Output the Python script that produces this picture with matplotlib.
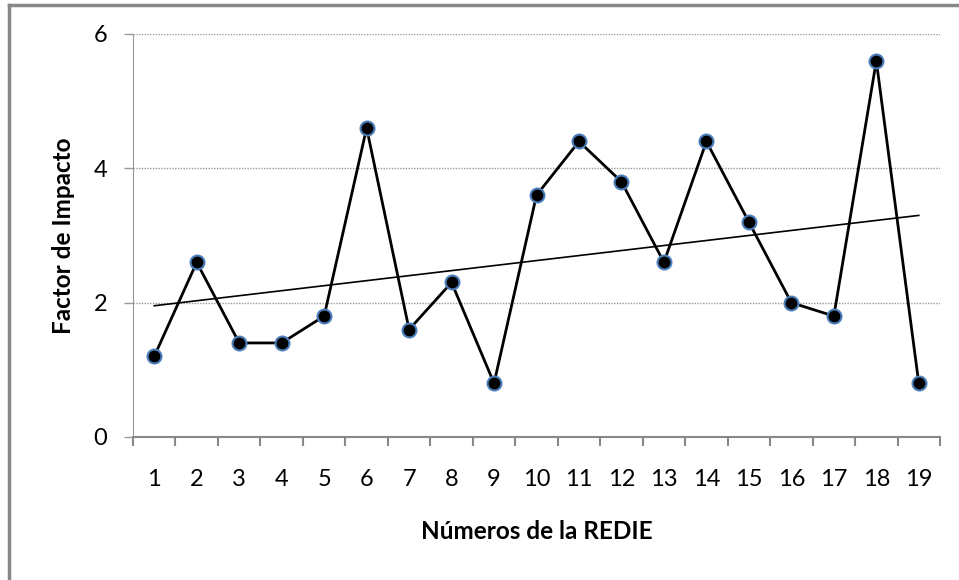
import numpy as np
import matplotlib
matplotlib.use("Agg")
import matplotlib.pyplot as plt
from matplotlib.lines import Line2D

numeros = list(range(1, 20))
factor_impacto = [1.2, 2.6, 1.4, 1.4, 1.8, 4.6, 1.6, 2.3, 0.8, 3.6,
                  4.4, 3.8, 2.6, 4.4, 3.2, 2.0, 1.8, 5.6, 0.8]
y_ticks = [0, 2, 4, 6]

plt.rcParams['font.family'] = ['Lato', 'DejaVu Sans']

fig = plt.figure(figsize=(9.59, 5.8), dpi=100)
ax = fig.add_axes([0.1387, 0.2466, 0.9802 - 0.1387, 0.9414 - 0.2466])

x = np.array(numeros)
y = np.array(factor_impacto)

# linea de tendencia (ajuste lineal)
m, b = np.polyfit(x, y, 1)
ax.plot([x[0], x[-1]], [m * x[0] + b, m * x[-1] + b], color='black', lw=1.2, zorder=2)

ax.plot(x, y, color='black', lw=2, marker='o', markersize=10,
        markerfacecolor='black', markeredgecolor='#4a7ebb', markeredgewidth=1.5, zorder=3)

ax.set_xlim(0.5, 19.5)
ax.set_ylim(0, 6)
ax.set_yticks(y_ticks)
ax.set_xticks(x)
ax.set_xticks(np.arange(0.5, 20, 1), minor=True)
ax.tick_params(axis='x', which='major', length=0, pad=23, labelsize=17)
ax.tick_params(axis='x', which='minor', length=6.5, width=1.5, color='#888888')
ax.tick_params(axis='y', length=6.5, width=1, color='#999999', pad=12, labelsize=17)
for t in ax.yaxis.get_ticklines():
    t.set_linestyle((0, (1, 1)))

ax.grid(axis='y', color='#999999', linestyle=(0, (1, 1)), lw=1)
ax.set_axisbelow(True)

ax.spines['top'].set_visible(False)
ax.spines['right'].set_visible(False)
ax.spines['left'].set_color('#999999')
ax.spines['left'].set_linestyle((0, (1, 1)))
ax.spines['bottom'].set_color('#888888')
ax.spines['bottom'].set_linewidth(1.5)

ax.set_xlabel('Números de la REDIE', fontsize=17.5, fontweight='bold', va='center')
ax.set_ylabel('Factor de Impacto', fontsize=17.5, fontweight='bold', va='center')
ax.xaxis.set_label_coords(0.5, (437 - 532) / 403)
ax.yaxis.set_label_coords((63 - 133) / 807, 0.5)

# borde del grafico
fig.add_artist(Line2D([9 / 959, 9 / 959], [0, 1 - 5 / 580], color='#888888', lw=2.5, transform=fig.transFigure))
fig.add_artist(Line2D([9 / 959, 1], [1 - 5 / 580, 1 - 5 / 580], color='#888888', lw=2.5, transform=fig.transFigure))

fig.savefig('out.png', dpi=100)
